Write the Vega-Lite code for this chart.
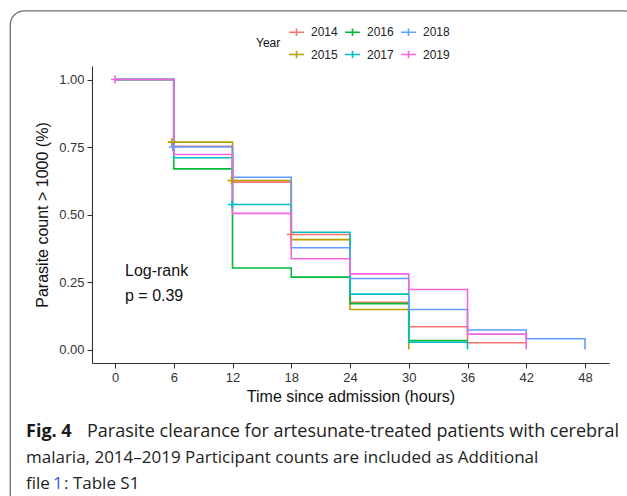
{
  "$schema": "https://vega.github.io/schema/vega-lite/v6.json",
  "autosize": {"type": "none"},
  "padding": {"left": 92, "top": 66, "right": 18, "bottom": 133},
  "width": 517,
  "height": 297,
  "background": "white",
  "config": {
    "view": {"stroke": null},
    "font": "Liberation Sans",
    "axis": {
      "domainColor": "#333333", "domainWidth": 1.1, "tickColor": "#333333", "tickWidth": 1.1, "tickSize": 5,
      "labelFont": "Liberation Sans", "labelFontSize": 13, "labelColor": "#333333", "labelPadding": 3,
      "titleFont": "Liberation Sans", "titleFontSize": 16, "titleFontWeight": "normal", "titleColor": "#111111",
      "grid": false
    }
  },
  "datasets": {
    "curves": [
      {"year": "2014", "t": 0, "s": 1.0}, {"year": "2014", "t": 6, "s": 0.753}, {"year": "2014", "t": 12, "s": 0.620}, {"year": "2014", "t": 18, "s": 0.426}, {"year": "2014", "t": 24, "s": 0.175}, {"year": "2014", "t": 30, "s": 0.084}, {"year": "2014", "t": 36, "s": 0.025}, {"year": "2014", "t": 42, "s": 0.025},
      {"year": "2015", "t": 0, "s": 1.0}, {"year": "2015", "t": 6, "s": 0.768}, {"year": "2015", "t": 12, "s": 0.626}, {"year": "2015", "t": 18, "s": 0.407}, {"year": "2015", "t": 24, "s": 0.148}, {"year": "2015", "t": 30, "s": 0.0},
      {"year": "2016", "t": 0, "s": 1.0}, {"year": "2016", "t": 6, "s": 0.669}, {"year": "2016", "t": 12, "s": 0.302}, {"year": "2016", "t": 18, "s": 0.268}, {"year": "2016", "t": 24, "s": 0.170}, {"year": "2016", "t": 30, "s": 0.033}, {"year": "2016", "t": 36, "s": 0.033},
      {"year": "2017", "t": 0, "s": 1.0}, {"year": "2017", "t": 6, "s": 0.710}, {"year": "2017", "t": 12, "s": 0.537}, {"year": "2017", "t": 18, "s": 0.434}, {"year": "2017", "t": 24, "s": 0.205}, {"year": "2017", "t": 30, "s": 0.027}, {"year": "2017", "t": 36, "s": 0.0},
      {"year": "2018", "t": 0, "s": 1.0}, {"year": "2018", "t": 6, "s": 0.750}, {"year": "2018", "t": 12, "s": 0.638}, {"year": "2018", "t": 18, "s": 0.377}, {"year": "2018", "t": 24, "s": 0.263}, {"year": "2018", "t": 30, "s": 0.148}, {"year": "2018", "t": 36, "s": 0.072}, {"year": "2018", "t": 42, "s": 0.040}, {"year": "2018", "t": 48, "s": 0.0},
      {"year": "2019", "t": 0, "s": 1.0}, {"year": "2019", "t": 6, "s": 0.722}, {"year": "2019", "t": 12, "s": 0.504}, {"year": "2019", "t": 18, "s": 0.336}, {"year": "2019", "t": 24, "s": 0.280}, {"year": "2019", "t": 30, "s": 0.222}, {"year": "2019", "t": 36, "s": 0.057}, {"year": "2019", "t": 42, "s": 0.0}
    ],
    "censor": [
      {"year": "2019", "t": 0, "s": 1.0},
      {"year": "2015", "t": 5.8, "s": 0.768},
      {"year": "2018", "t": 5.9, "s": 0.750},
      {"year": "2015", "t": 11.9, "s": 0.626},
      {"year": "2017", "t": 11.95, "s": 0.537},
      {"year": "2014", "t": 17.95, "s": 0.426}
    ]
  },
  "layer": [
    {
      "data": {"values": [{"k": 1}]},
      "mark": {"type": "rect", "fill": null, "stroke": "#6e6e6e", "strokeWidth": 1.3, "cornerRadius": 14},
      "encoding": {
        "x": {"datum": -10.7, "type": "quantitative", "scale": {"domain": [-2.35, 50.45], "nice": false, "zero": false}},
        "x2": {"datum": 53.5},
        "y": {"datum": 1.254, "type": "quantitative", "scale": {"domain": [-0.05, 1.05], "nice": false, "zero": false}},
        "y2": {"datum": -0.6}
      }
    },
    {
      "data": {"name": "curves"},
      "mark": {"type": "line", "interpolate": "step-after", "strokeWidth": 1.6},
      "encoding": {
        "x": {"field": "t", "type": "quantitative", "scale": {"domain": [-2.35, 50.45], "nice": false, "zero": false},
          "axis": {"values": [0, 6, 12, 18, 24, 30, 36, 42, 48], "title": "Time since admission (hours)", "titlePadding": 4}},
        "y": {"field": "s", "type": "quantitative", "scale": {"domain": [-0.05, 1.05], "nice": false, "zero": false},
          "axis": {"values": [0, 0.25, 0.5, 0.75, 1], "format": ".2f", "title": "Parasite count > 1000 (%)", "titlePadding": 8}},
        "color": {"field": "year", "type": "nominal",
          "scale": {"domain": ["2014", "2016", "2018", "2015", "2017", "2019"], "range": ["#F8766D", "#00BA38", "#619CFF", "#B79F00", "#00BFC4", "#F564E3"]},
          "legend": {"title": "Year", "orient": "none", "legendX": 164, "legendY": -42.5, "direction": "horizontal", "columns": 3,
            "titleOrient": "left", "titleAnchor": "middle", "titleFontSize": 12, "titleFontWeight": "normal", "titleColor": "#111111", "titlePadding": 7,
            "labelFontSize": 12, "labelColor": "#222222", "labelOffset": 6, "columnPadding": 3, "rowPadding": 6.5,
            "symbolType": "M-1,0H1M0,-0.5V0.5", "symbolSize": 225, "symbolStrokeWidth": 1.6, "symbolFillColor": "transparent"}
        }
      }
    },
    {
      "data": {"name": "censor"},
      "mark": {"type": "point", "shape": "M-1,0H1M0,-1V1", "size": 64, "filled": false, "strokeWidth": 1.6, "opacity": 1},
      "encoding": {
        "x": {"field": "t", "type": "quantitative"},
        "y": {"field": "s", "type": "quantitative"},
        "color": {"field": "year", "type": "nominal"}
      }
    },
    {
      "data": {"values": [{"label": "Log-rank"}]},
      "mark": {"type": "text", "align": "left", "baseline": "alphabetic", "fontSize": 16, "font": "Liberation Sans", "color": "#111111"},
      "encoding": {"x": {"datum": 1.02}, "y": {"datum": 0.274}, "text": {"field": "label"}}
    },
    {
      "data": {"values": [{"label": "p = 0.39"}]},
      "mark": {"type": "text", "align": "left", "baseline": "alphabetic", "fontSize": 16, "font": "Liberation Sans", "color": "#111111"},
      "encoding": {"x": {"datum": 1.02}, "y": {"datum": 0.178}, "text": {"field": "label"}}
    },
    {
      "data": {"values": [{"label": "Fig. 4"}]},
      "mark": {"type": "text", "align": "left", "baseline": "alphabetic", "fontSize": 18, "font": "Open Sans", "fontWeight": "bold", "color": "#1a1a1a"},
      "encoding": {"x": {"datum": -9.09}, "y": {"datum": -0.323}, "text": {"field": "label"}}
    },
    {
      "data": {"values": [{"label": "Parasite clearance for artesunate-treated patients with cerebral"}]},
      "mark": {"type": "text", "align": "left", "baseline": "alphabetic", "fontSize": 18, "font": "Open Sans", "dx": 61, "color": "#222222"},
      "encoding": {"x": {"datum": -9.09}, "y": {"datum": -0.323}, "text": {"field": "label"}}
    },
    {
      "data": {"values": [{"label": "malaria, 2014–2019 Participant counts are included as Additional"}]},
      "mark": {"type": "text", "align": "left", "baseline": "alphabetic", "fontSize": 17, "font": "Open Sans", "color": "#222222"},
      "encoding": {"x": {"datum": -9.09}, "y": {"datum": -0.42}, "text": {"field": "label"}}
    },
    {
      "data": {"values": [{"label": "file"}]},
      "mark": {"type": "text", "align": "left", "baseline": "alphabetic", "fontSize": 17, "font": "Open Sans", "color": "#222222"},
      "encoding": {"x": {"datum": -9.09}, "y": {"datum": -0.515}, "text": {"field": "label"}}
    },
    {
      "data": {"values": [{"label": "1"}]},
      "mark": {"type": "text", "align": "left", "baseline": "alphabetic", "fontSize": 17, "font": "Open Sans", "dx": 27, "color": "#3a55d9"},
      "encoding": {"x": {"datum": -9.09}, "y": {"datum": -0.515}, "text": {"field": "label"}}
    },
    {
      "data": {"values": [{"label": ": Table S1"}]},
      "mark": {"type": "text", "align": "left", "baseline": "alphabetic", "fontSize": 17, "font": "Open Sans", "dx": 38, "color": "#222222"},
      "encoding": {"x": {"datum": -9.09}, "y": {"datum": -0.515}, "text": {"field": "label"}}
    }
  ]
}
